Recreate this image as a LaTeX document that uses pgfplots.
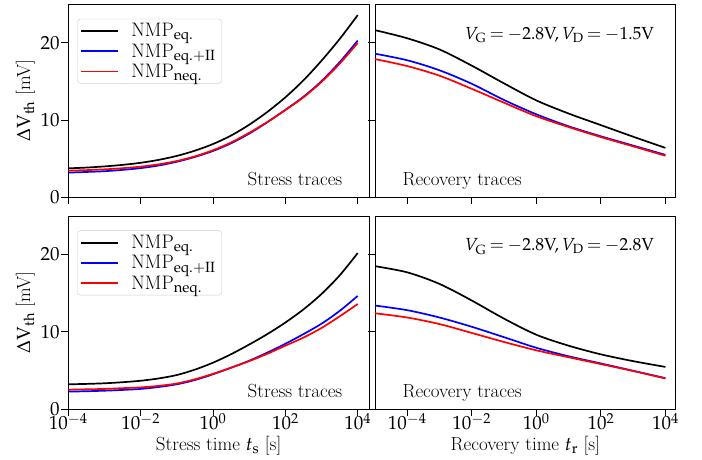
\documentclass[border=0pt]{standalone}
\usepackage{mathpazo}
\usepackage{pgfplots}
\pgfplotsset{compat=1.18}
\newcommand{\fs}{\fontsize{19}{22}\selectfont}
\newcommand{\fl}{\fontsize{19.5}{22}\selectfont}
\newcommand{\fa}{\fontsize{17.5}{20}\selectfont\thickmuskip=3.5mu plus 2mu}
\pgfplotstableread{
x black blue red
1e-4 3.75 3.20 3.45
3.162e-4 3.85 3.28 3.52
1e-3 4.00 3.38 3.62
3.162e-3 4.20 3.55 3.77
1e-2 4.47 3.78 3.97
3.162e-2 4.85 4.12 4.27
1e-1 5.36 4.60 4.70
3.162e-1 6.04 5.23 5.30
1 6.90 6.00 6.10
3.162 8.00 7.00 7.10
10 9.40 8.25 8.35
31.62 11.05 9.72 9.75
100 12.95 11.33 11.30
316.2 15.15 13.02 12.95
1000 17.70 15.05 14.95
3162 20.50 17.50 17.30
1e4 23.6 20.3 20.0
}\TLdata
\pgfplotstableread{
x black blue red
1e-5 21.65 18.6 17.9
1e-4 20.6 17.75 17.0
1e-3 19.15 16.45 15.75
1e-2 17.05 14.7 14.05
0.1 14.75 12.6 12.25
1 12.55 10.75 10.5
10 10.85 9.2 9.1
100 9.35 7.9 7.8
1000 7.85 6.7 6.6
1e4 6.4 5.5 5.38
}\TRdata
\pgfplotstableread{
x black blue red
1e-4 3.20 2.25 2.50
3.162e-4 3.25 2.30 2.55
1e-3 3.33 2.37 2.60
3.162e-3 3.47 2.47 2.70
1e-2 3.66 2.60 2.80
3.162e-2 3.96 2.85 3.00
1e-1 4.40 3.20 3.30
3.162e-1 5.10 3.75 3.85
1 6.00 4.50 4.55
3.162 7.10 5.35 5.35
10 8.35 6.25 6.20
31.62 9.70 7.30 7.15
100 11.20 8.45 8.20
316.2 12.90 9.70 9.25
1000 14.90 11.05 10.50
3162 17.30 12.70 12.00
1e4 20.20 14.65 13.60
}\BLdata
\pgfplotstableread{
x black blue red
1e-5 18.5 13.4 12.4
1e-4 17.7 12.8 11.85
1e-3 16.2 11.85 11.0
1e-2 14.05 10.65 9.85
0.1 11.7 9.3 8.68
1 9.62 7.93 7.6
10 8.2 6.83 6.7
100 7.08 5.9 5.82
1000 6.2 4.95 4.92
1e4 5.45 4.0 3.95
}\BRdata
\pgfplotsset{every axis/.append style={
    scale only axis, width=300.7pt, height=193pt,
    ymin=0, ymax=25, ytick={0,10,20},
    xtick={1e-4,1e-2,1,1e2,1e4},
    tick align=outside, xtick pos=left, ytick pos=left,
    major tick length=7pt,
    tick style={black, line width=0.9pt},
    axis line style={line width=0.9pt},
    tick label style={font=\fs},
    xticklabel style={anchor=base},
    xticklabel shift=14pt,
    yticklabel style={inner xsep=1.5pt},
    label style={font=\fs},
    ylabel style={at={(axis description cs:-0.0998,0.5)}, anchor=south},
    xlabel style={at={(axis description cs:0.5,-0.2176)}, anchor=base},
    legend cell align=left,
    legend style={at={(0.03,0.925)}, anchor=north west, draw=black!20,
      rounded corners=3pt, fill=white, font=\fl, inner xsep=3pt, inner ysep=3pt,
      row sep=2.5pt, column sep=9pt, nodes={inner ysep=1.5pt, inner xsep=3pt}},
}}
\begin{document}
\begin{tikzpicture}
\useasboundingbox (0,0) rectangle (702pt,460pt);
% top left
\begin{semilogxaxis}[at={(68.3pt,262.7pt)}, anchor=south west, xticklabels={},
  xmin=1e-4, xmax=2.05e4, xminorticks=false,
  ylabel={$\Delta\mathrm{V}_{\mathrm{th}}$ [mV]},
  legend image code/.code={\draw[#1, line width=1.9pt] (0pt,0pt) -- (37pt,0pt);}]
\addplot[black, line width=1.7pt, smooth] table[x=x,y=black] {\TLdata};
\addlegendentry{NMP$_{\mathrm{eq.}}$}
\addplot[blue, line width=1.7pt, smooth] table[x=x,y=blue] {\TLdata};
\addlegendentry{NMP$_{\mathrm{eq.{+}II}}$}
\addplot[red, line width=1.7pt, smooth] table[x=x,y=red] {\TLdata};
\addlegendentry{NMP$_{\mathrm{neq.}}$}
\node[anchor=base east, font=\fs] at (rel axis cs:0.923,0.059) {Stress traces};
\end{semilogxaxis}
% top right
\begin{semilogxaxis}[at={(375pt,262.7pt)}, anchor=south west, xticklabels={}, yticklabels={},
  xmin=1e-5, xmax=2.085e4, xminorticks=false]
\addplot[black, line width=1.7pt, smooth] table[x=x,y=black] {\TRdata};
\addplot[blue, line width=1.7pt, smooth] table[x=x,y=blue] {\TRdata};
\addplot[red, line width=1.7pt, smooth] table[x=x,y=red] {\TRdata};
\node[anchor=base west, font=\fs] at (rel axis cs:0.08,0.059) {Recovery traces};
\node[anchor=base east, font=\fa] at (rel axis cs:0.94,0.82) {$V_{\mathrm{G}}=-2.8\mathrm{V}, V_{\mathrm{D}}=-1.5\mathrm{V}$};
\end{semilogxaxis}
% bottom left
\begin{semilogxaxis}[at={(68.3pt,51pt)}, anchor=south west,
  xmin=1e-4, xmax=2.05e4, xminorticks=false,
  ylabel={$\Delta\mathrm{V}_{\mathrm{th}}$ [mV]},
  xlabel={Stress time $t_{\mathrm{s}}$ [s]},
  legend image code/.code={\draw[#1, line width=1.9pt] (0pt,0pt) -- (37pt,0pt);}]
\addplot[black, line width=1.7pt, smooth] table[x=x,y=black] {\BLdata};
\addlegendentry{NMP$_{\mathrm{eq.}}$}
\addplot[blue, line width=1.7pt, smooth] table[x=x,y=blue] {\BLdata};
\addlegendentry{NMP$_{\mathrm{eq.{+}II}}$}
\addplot[red, line width=1.7pt, smooth] table[x=x,y=red] {\BLdata};
\addlegendentry{NMP$_{\mathrm{neq.}}$}
\node[anchor=base east, font=\fs] at (rel axis cs:0.923,0.059) {Stress traces};
\end{semilogxaxis}
% bottom right
\begin{semilogxaxis}[at={(375pt,51pt)}, anchor=south west, yticklabels={},
  xmin=1e-5, xmax=2.085e4, xminorticks=false,
  xlabel={Recovery time $t_{\mathrm{r}}$ [s]}]
\addplot[black, line width=1.7pt, smooth] table[x=x,y=black] {\BRdata};
\addplot[blue, line width=1.7pt, smooth] table[x=x,y=blue] {\BRdata};
\addplot[red, line width=1.7pt, smooth] table[x=x,y=red] {\BRdata};
\node[anchor=base west, font=\fs] at (rel axis cs:0.08,0.059) {Recovery traces};
\node[anchor=base east, font=\fa] at (rel axis cs:0.94,0.82) {$V_{\mathrm{G}}=-2.8\mathrm{V}, V_{\mathrm{D}}=-2.8\mathrm{V}$};
\end{semilogxaxis}
\end{tikzpicture}
\end{document}
